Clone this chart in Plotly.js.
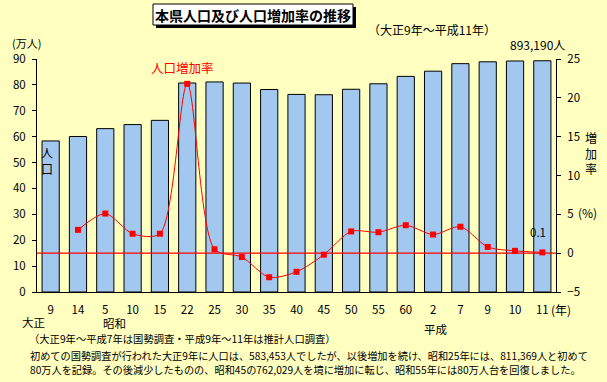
<!DOCTYPE html>
<html>
<head>
<meta charset="utf-8">
<script src="https://cdn.plot.ly/plotly-3.0.1.min.js"></script>
<style>body{margin:0;padding:0;background:#ffffc0;}#chart{width:607px;height:382px;}</style>
</head>
<body>
<div id="chart"></div>
<script>
// Data
const yearLabels = ['9','14','5','10','15','22','25','30','35','40','45','50','55','60','2','7','9','10','11'];
const population = [58.3453, 60.0675, 63.1042, 64.6727, 66.3026, 80.7251, 81.1369, 80.7044, 78.2062, 76.3194, 76.2029, 78.3050, 80.4256, 83.2832, 85.2966, 88.1996, 88.92, 89.23, 89.319];
const growthRate = [null, 3.0, 5.1, 2.5, 2.5, 21.8, 0.5, -0.5, -3.1, -2.4, -0.2, 2.8, 2.7, 3.6, 2.4, 3.4, 0.8, 0.3, 0.1];
const eraLabels = ['大正', '昭和', '平成'];

const idx = yearLabels.map((_, i) => i);
const W = 607, H = 382, ML = 37, MR = 51, MT = 59, MB = 90;
const PW = W - ML - MR, PH = H - MT - MB;
const px = x => (x - ML) / PW;
const py = y => (H - MB - y) / PH;
const FONT = '"Noto Sans CJK JP", "Noto Sans", sans-serif';
const BG = '#ffffc0';

const traces = [
  {
    type: 'bar', x: idx, y: population, yaxis: 'y',
    marker: {color: '#a3c8f0', line: {color: '#000', width: 1}},
    hoverinfo: 'skip', showlegend: false
  },
  {
    type: 'scatter', mode: 'lines+markers', x: idx, y: growthRate, yaxis: 'y2',
    line: {color: '#ff0000', width: 1, shape: 'spline', smoothing: 0.8},
    marker: {color: '#ff0000', symbol: 'square', size: 6},
    connectgaps: false, hoverinfo: 'skip', showlegend: false
  }
];

const ann = [];
function txt(text, x, y, size, opts) {
  ann.push(Object.assign({
    text: text, xref: 'paper', yref: 'paper', x: px(x), y: py(y),
    xanchor: 'center', yanchor: 'middle', showarrow: false,
    font: {family: FONT, size: size, color: '#000'}
  }, opts || {}));
}
txt('<b>本県人口及び人口増加率の推移</b>', 253, 15, 14);
txt('（大正9年～平成11年）', 432, 30, 12);
txt('(万人)', 26, 43, 11);
txt('893,190人', 537, 45, 12);
txt('人口増加率', 182, 67, 12.5, {font: {family: FONT, size: 12.5, color: '#ff0000'}});
txt('人<br>口', 47, 160, 12);
txt('増<br>加<br>率', 591, 153, 12);
txt('(%)', 587, 212, 12);
txt('(年)', 561, 309, 12);
// era labels
const eraPos = [[33, 322], [114.5, 323], [435.5, 329]];
eraLabels.forEach((e, i) => txt(e, eraPos[i][0], eraPos[i][1], 11.5));
// value label for last point
ann.push({text: '0.1', xref: 'x', yref: 'y2', x: idx[18], y: growthRate[18], yshift: 20, xshift: -4,
  showarrow: false, font: {family: FONT, size: 11.5, color: '#000'}});
// notes
txt('（大正9年～平成7年は国勢調査・平成9年～11年は推計人口調査）', 27, 338, 10.3, {xanchor: 'left'});
txt('初めての国勢調査が行われた大正9年に人口は、583,453人でしたが、以後増加を続け、昭和25年には、811,369人と初めて', 28, 355, 10.2, {xanchor: 'left'});
txt('80万人を記録。その後減少したものの、昭和45の762,029人を境に増加に転じ、昭和55年には80万人台を回復しました。', 28, 369, 10.2, {xanchor: 'left'});

const shapes = [
  {type: 'line', xref: 'paper', yref: 'y2', x0: 0, x1: 1, y0: 0, y1: 0, line: {color: '#ff0000', width: 1.2}, layer: 'above'},
  {type: 'rect', xref: 'paper', yref: 'paper', x0: px(156), x1: px(356), y0: py(7), y1: py(28), fillcolor: '#000', line: {width: 0}},
  {type: 'rect', xref: 'paper', yref: 'paper', x0: px(153), x1: px(353), y0: py(4), y1: py(25), fillcolor: '#fff', line: {color: '#000', width: 1}}
];

const layout = {
  width: W, height: H,
  margin: {l: ML, r: MR, t: MT, b: MB, pad: 0},
  paper_bgcolor: BG, plot_bgcolor: BG,
  font: {family: FONT, size: 11.5, color: '#000'},
  bargap: 0.37,
  showlegend: false,
  xaxis: {
    range: [-0.5, 18.5], tickvals: idx, ticktext: yearLabels, ticks: '',
    showline: true, linecolor: '#000', linewidth: 1, showgrid: false, zeroline: false,
    tickfont: {family: FONT, size: 11.5}, ticklabelstandoff: 7, fixedrange: true
  },
  yaxis: {
    range: [0, 90], dtick: 10, tick0: 0, ticks: 'outside', ticklen: 4, tickcolor: '#000',
    showline: true, linecolor: '#000', linewidth: 1, showgrid: false, zeroline: false,
    tickfont: {family: FONT, size: 11.5}, ticklabelstandoff: 4
  },
  yaxis2: {
    range: [-5, 25], dtick: 5, tick0: 0, ticks: 'outside', ticklen: 4, tickcolor: '#000',
    overlaying: 'y', side: 'right',
    showline: true, linecolor: '#000', linewidth: 1, showgrid: false, zeroline: false,
    tickfont: {family: FONT, size: 11.5}, ticklabelstandoff: 4
  },
  shapes: shapes,
  annotations: ann
};

Plotly.newPlot('chart', traces, layout, {displayModeBar: false, staticPlot: true});
</script>
</body>
</html>
